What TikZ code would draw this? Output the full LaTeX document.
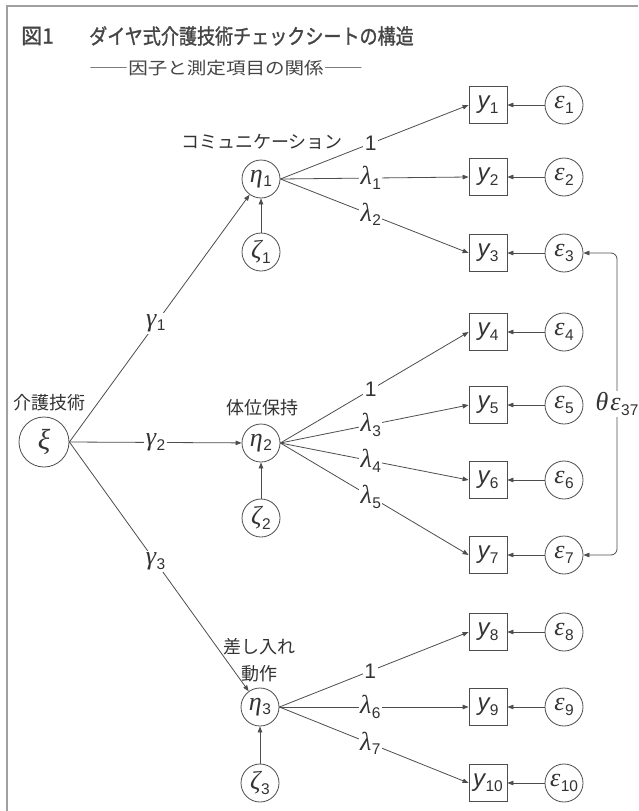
\documentclass[tikz,border=0pt]{standalone}
\usepackage{fontspec}
\newfontfamily\jp{Noto Sans CJK JP}
\newfontfamily\jpt[FakeBold=1.3]{Noto Sans CJK JP}
\newfontfamily\gk{Liberation Sans}
\newfontfamily\grk{Liberation Serif}
\newcommand{\symsub}[2]{{\grk\itshape #1}\kern0.5pt\raisebox{-4.5pt}{\gk\fontsize{15.5}{15.5}\selectfont #2}}
\newcommand{\ysub}[1]{{\gk\itshape y}\kern0.3pt\raisebox{-4.5pt}{\gk\fontsize{15.5}{15.5}\selectfont #1}}
\usetikzlibrary{arrows.meta}
\definecolor{ln}{HTML}{4D4D4D}
\definecolor{tx}{HTML}{333333}
\definecolor{ttl}{HTML}{454545}
\definecolor{frm}{HTML}{A0A0A0}
\begin{document}
\begin{tikzpicture}[x=1pt,y=-1pt,
  lat/.style={circle,draw=ln,line width=0.8pt,minimum size=38pt,inner sep=0pt,text=tx,font=\fontsize{26}{26}\selectfont},
  obs/.style={rectangle,draw=ln,line width=0.8pt,minimum width=38pt,minimum height=37pt,inner sep=0pt,text=tx,font=\fontsize{24}{24}\selectfont},
  arr/.style={draw=ln,line width=0.8pt,-{Triangle[length=6pt,width=4.5pt]}},
  cov/.style={draw=ln,line width=0.8pt,{Triangle[length=6pt,width=4.5pt]}-{Triangle[length=6pt,width=4.5pt]},rounded corners=6pt},
  lbl/.style={fill=white,inner sep=1.5pt,text=tx,font=\fontsize{26}{26}\selectfont},
  jpl/.style={text=tx,font=\jp\fontsize{18}{27}\selectfont,align=center,inner sep=0pt}
]
\useasboundingbox (0,0) rectangle (638,811);
\fill[white] (0,0) rectangle (638,811);
% frame
\draw[draw=frm,line width=2pt] (638,6) -- (7,6) -- (7,811);

% title
\node[anchor=west,text=ttl,font=\jpt\fontsize{21}{21}\selectfont,inner sep=0pt] (t1) at (21,36) {図1};
\node[anchor=west,text=ttl,font=\jpt\fontsize{21}{21}\selectfont,inner sep=0pt] (t2) at (89,36) {\scalebox{0.86}[1]{ダイヤ式介護技術チェックシートの構造}};
\node[text=ttl,font=\jp\fontsize{17}{17}\selectfont,inner sep=0pt] (t3) at (226,68) {\scalebox{1.15}[1]{――因子と測定項目の関係――}};

% latent exogenous
\node[lat,minimum size=50pt,font=\fontsize{29}{29}\selectfont] (xi) at (44,442) {{\grk\itshape ξ}};
\node[jpl] (lxi) at (49,403) {介護技術};

% latent endogenous
\node[lat] (eta1) at (261,179) {\symsub{η}{1}};
\node[lat] (eta2) at (261,443) {\symsub{η}{2}};
\node[lat] (eta3) at (260,707) {\symsub{η}{3}};
\node[lat] (zeta1) at (261,252) {\symsub{ζ}{1}};
\node[lat] (zeta2) at (261,518) {\symsub{ζ}{2}};
\node[lat] (zeta3) at (260,783) {\symsub{ζ}{3}};
\node[jpl] (l1) at (262,142) {コミュニケーション};
\node[jpl] (l2) at (262,408) {体位保持};
\node[jpl] (l3) at (259,660) {差し入れ\\動作};

% observed
\foreach \i/\yy in {1/105,2/177,3/253,4/332,5/405,6/480,7/555,8/632,9/707,10/783}{
  \node[obs] (y\i) at (488,\yy) {\ysub{\i}};
  \node[lat] (e\i) at (564,\yy) {\symsub{ε}{\i}};
  \draw[arr] (e\i) -- (y\i);
}

% structural paths
\draw[arr] (xi.east) -- (eta1) node[lbl,pos=0.48] {\symsub{γ}{1}};
\draw[arr] (xi.east) -- (eta2) node[lbl,pos=0.5] {\symsub{γ}{2}};
\draw[arr] (xi.east) -- (eta3) node[lbl,pos=0.48] {\symsub{γ}{3}};
\draw[arr] (zeta1) -- (eta1);
\draw[arr] (zeta2) -- (eta2);
\draw[arr] (zeta3) -- (eta3);

% loadings
\draw[arr] (eta1.east) -- (y1.west) node[lbl,pos=0.48,font=\gk\fontsize{21}{21}\selectfont] {1};
\draw[arr] (eta1.east) -- (y2.west) node[lbl,pos=0.48] {\symsub{λ}{1}};
\draw[arr] (eta1.east) -- (y3.west) node[lbl,pos=0.48] {\symsub{λ}{2}};
\draw[arr] (eta2.east) -- (y4.west) node[lbl,pos=0.48,font=\gk\fontsize{21}{21}\selectfont] {1};
\draw[arr] (eta2.east) -- (y5.west) node[lbl,pos=0.48] {\symsub{λ}{3}};
\draw[arr] (eta2.east) -- (y6.west) node[lbl,pos=0.48] {\symsub{λ}{4}};
\draw[arr] (eta2.east) -- (y7.west) node[lbl,pos=0.48] {\symsub{λ}{5}};
\draw[arr] (eta3.east) -- (y8.west) node[lbl,pos=0.48,font=\gk\fontsize{21}{21}\selectfont] {1};
\draw[arr] (eta3.east) -- (y9.west) node[lbl,pos=0.48] {\symsub{λ}{6}};
\draw[arr] (eta3.east) -- (y10.west) node[lbl,pos=0.48] {\symsub{λ}{7}};

% covariance
\coordinate (cvx) at (617,0);
\draw[cov] (e3.east) -- (e3.east -| cvx) -- (e7.east -| cvx) node[lbl,pos=0.5,inner xsep=0pt] {{\grk\itshape θ}\kern2pt\symsub{ε}{37}} -- (e7.east);
\end{tikzpicture}
\end{document}
